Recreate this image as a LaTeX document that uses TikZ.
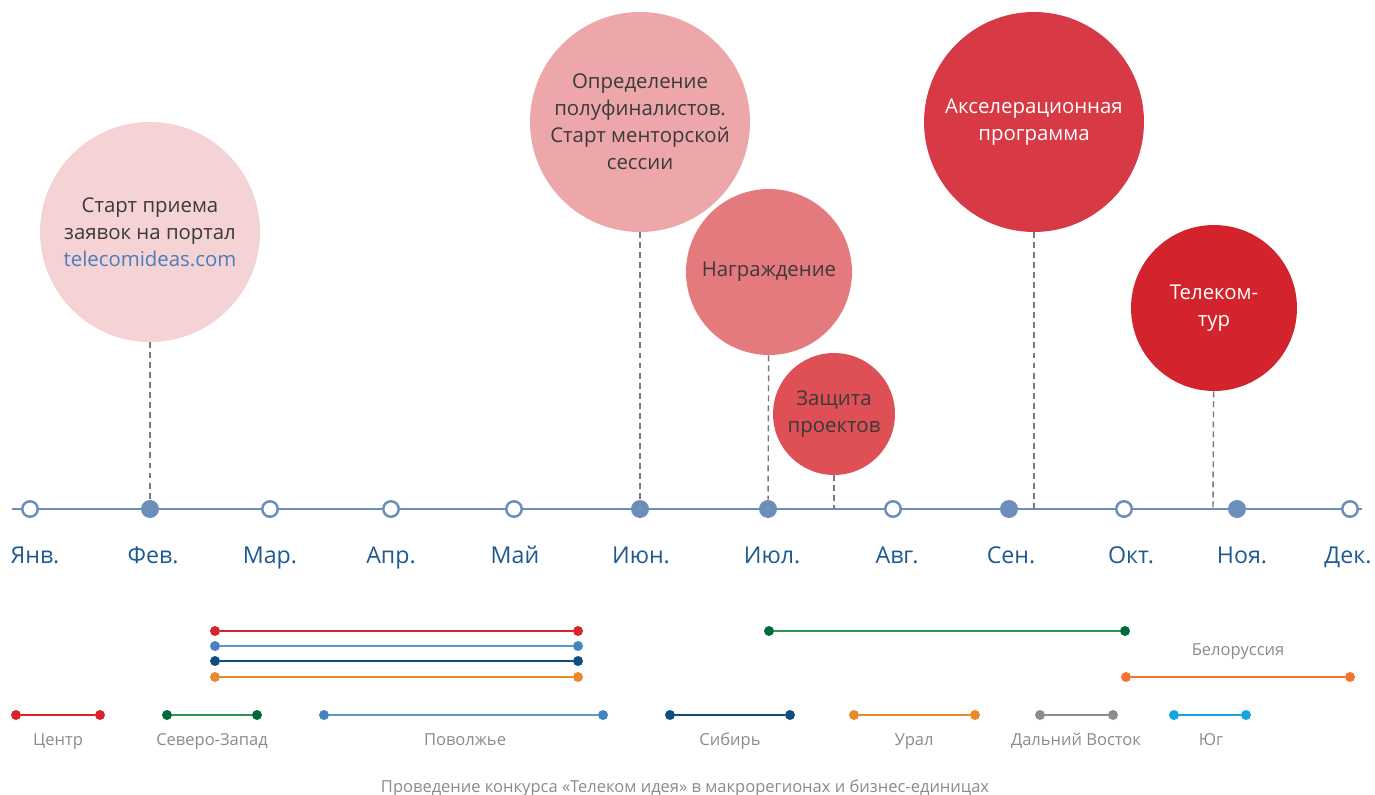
\documentclass[tikz,border=0pt]{standalone}
\usepackage{fontspec}
\setmainfont{Open Sans}
\usepackage{xcolor}
\usetikzlibrary{positioning}

\definecolor{axisblue}{HTML}{6B8FBA}
\definecolor{monthblue}{HTML}{1E5A92}
\definecolor{textdark}{HTML}{3A3A3A}
\definecolor{leadgray}{HTML}{7A7A7A}
\definecolor{labelgray}{HTML}{8A8A8A}
\definecolor{linkblue}{HTML}{4B7DBB}
\definecolor{bubA}{HTML}{F5D3D5}
\definecolor{bubB}{HTML}{EDA7AA}
\definecolor{bubC}{HTML}{E47A7E}
\definecolor{bubD}{HTML}{DE4F56}
\definecolor{bubE}{HTML}{D73A45}
\definecolor{bubF}{HTML}{D3232D}
\definecolor{legred}{HTML}{D7242D}
\definecolor{leglight}{HTML}{5B95CC}
\definecolor{leglightdot}{HTML}{4384BE}
\definecolor{legdark}{HTML}{0D4E83}
\definecolor{legorange}{HTML}{E8892C}
\definecolor{leggreen}{HTML}{2E8F57}
\definecolor{leggreendot}{HTML}{006B3A}
\definecolor{legbel}{HTML}{F47330}
\definecolor{leggray}{HTML}{8C8C8C}
\definecolor{legcyan}{HTML}{14A6E2}

\begin{document}
\begin{tikzpicture}[
    x=0.02cm, y=-0.02cm,
    bubble/.style={circle, inner sep=0pt, align=center, text=textdark, font=\fontsize{11.6}{15.4}\selectfont},
    openmark/.style={circle, draw=axisblue, fill=white, line width=1.4pt, minimum size=0.31cm, inner sep=0pt},
    fullmark/.style={circle, fill=axisblue, minimum size=0.36cm, inner sep=0pt},
    month/.style={anchor=base, text=monthblue, font=\fontsize{13.2}{15}\selectfont},
    lead/.style={draw=leadgray, dash pattern=on 3.4pt off 2.3pt, line width=0.8pt},
    dot/.style={circle, minimum size=0.2cm, inner sep=0pt},
    bar/.style={line width=1.6pt},
    region/.style={anchor=base, text=labelgray, font=\fontsize{9.4}{11}\selectfont},
]
\useasboundingbox (0,0) rectangle (1375,794);

% timeline
\coordinate (t0) at (12,509);
\coordinate (t1) at (1362,509);
\draw[axisblue, line width=1.7pt] (t0) -- (t1);

\node[openmark] (m1) at (30,509) {};
\node[fullmark] (m2) at (150,509) {};
\node[openmark] (m3) at (270,509) {};
\node[openmark] (m4) at (391,509) {};
\node[openmark] (m5) at (514,509) {};
\node[fullmark] (m6) at (640,509) {};
\node[fullmark] (m7) at (768,509) {};
\node[openmark] (m8) at (893,509) {};
\node[fullmark] (m9) at (1009,509) {};
\node[openmark] (m10) at (1124,509) {};
\node[fullmark] (m11) at (1237,509) {};
\node[openmark] (m12) at (1350,509) {};

\node[month] at (35,563) {Янв.};
\node[month] at (153,563) {Фев.};
\node[month] at (270,563) {Мар.};
\node[month] at (391,563) {Апр.};
\node[month] at (515,563) {Май};
\node[month] at (641,563) {Июн.};
\node[month] at (772,563) {Июл.};
\node[month] at (897,563) {Авг.};
\node[month] at (1011,563) {Сен.};
\node[month] at (1131,563) {Окт.};
\node[month] at (1242,563) {Ноя.};
\node[month] at (1348,563) {Дек.};

% events
\node[bubble, fill=bubA, minimum size=4.4cm] (c1) at (150,232) {Старт приема\\заявок на портал\\\textcolor{linkblue}{telecomideas.com}};
\node[bubble, fill=bubB, minimum size=4.4cm] (c2) at (640,122) {Определение\\полуфиналистов.\\Старт менторской\\сессии};
\node[bubble, fill=bubC, minimum size=3.32cm] (c3) at (769,272) {Награждение};
\node[bubble, fill=bubD, minimum size=2.44cm] (c4) at (834,414) {Защита\\проектов};
\node[bubble, fill=bubE, minimum size=4.4cm, text=white] (c5) at (1034,122) {Акселерационная\\программа};
\node[bubble, fill=bubF, minimum size=3.32cm, text=white] (c6) at (1214,308) {Телеком-\\тур};

\coordinate (p4) at (834,509);
\coordinate (p5) at (1034,509);
\coordinate (p6) at (1213,509);

\draw[lead] (c1) -- (m2);
\draw[lead] (c2) -- (m6);
\draw[lead] (c3) -- (m7);
\draw[lead] (c4) -- (p4);
\draw[lead] (c5) -- (p5);
\draw[lead] (c6) -- (p6);

% regions
\node[dot, fill=legred] (ra) at (215,631) {}; \node[dot, fill=legred] (rb) at (578,631) {}; \draw[bar, legred] (ra) -- (rb);
\node[dot, fill=leglightdot] (la) at (215,646) {}; \node[dot, fill=leglightdot] (lb) at (578,646) {}; \draw[bar, leglight] (la) -- (lb);
\node[dot, fill=legdark] (da) at (215,661) {}; \node[dot, fill=legdark] (db) at (578,661) {}; \draw[bar, legdark] (da) -- (db);
\node[dot, fill=legorange] (oa) at (215,677) {}; \node[dot, fill=legorange] (ob) at (578,677) {}; \draw[bar, legorange] (oa) -- (ob);
\node[dot, fill=leggreendot] (ga) at (769,631) {}; \node[dot, fill=leggreendot] (gb) at (1125,631) {}; \draw[bar, leggreen] (ga) -- (gb);
\node[dot, fill=legbel] (ba) at (1126,677) {}; \node[dot, fill=legbel] (bb) at (1350,677) {}; \draw[bar, legbel] (ba) -- (bb);
\node[region] (bel) at (1238,655) {Белоруссия};

\node[dot, fill=legred] (s1a) at (16,715) {}; \node[dot, fill=legred] (s1b) at (100,715) {}; \draw[bar, legred] (s1a) -- (s1b);
\node[dot, fill=leggreendot] (s2a) at (167,715) {}; \node[dot, fill=leggreendot] (s2b) at (257,715) {}; \draw[bar, leggreen] (s2a) -- (s2b);
\node[dot, fill=leglightdot] (s3a) at (324,715) {}; \node[dot, fill=leglightdot] (s3b) at (603,715) {}; \draw[bar, leglight] (s3a) -- (s3b);
\node[dot, fill=legdark] (s4a) at (670,715) {}; \node[dot, fill=legdark] (s4b) at (790,715) {}; \draw[bar, legdark] (s4a) -- (s4b);
\node[dot, fill=legorange] (s5a) at (854,715) {}; \node[dot, fill=legorange] (s5b) at (975,715) {}; \draw[bar, legorange] (s5a) -- (s5b);
\node[dot, fill=leggray] (s6a) at (1040,715) {}; \node[dot, fill=leggray] (s6b) at (1113,715) {}; \draw[bar, leggray] (s6a) -- (s6b);
\node[dot, fill=legcyan] (s7a) at (1174,715) {}; \node[dot, fill=legcyan] (s7b) at (1246,715) {}; \draw[bar, legcyan] (s7a) -- (s7b);

\node[region] at (58,745) {Центр};
\node[region] at (212,745) {Северо-Запад};
\node[region] at (465,745) {Поволжье};
\node[region] at (730,745) {Сибирь};
\node[region] at (914,745) {Урал};
\node[region] at (1076,745) {Дальний Восток};
\node[region] at (1211,745) {Юг};

\node[region] (cap) at (685,792) {Проведение конкурса «Телеком идея» в макрорегионах и бизнес-единицах};
\end{tikzpicture}
\end{document}
